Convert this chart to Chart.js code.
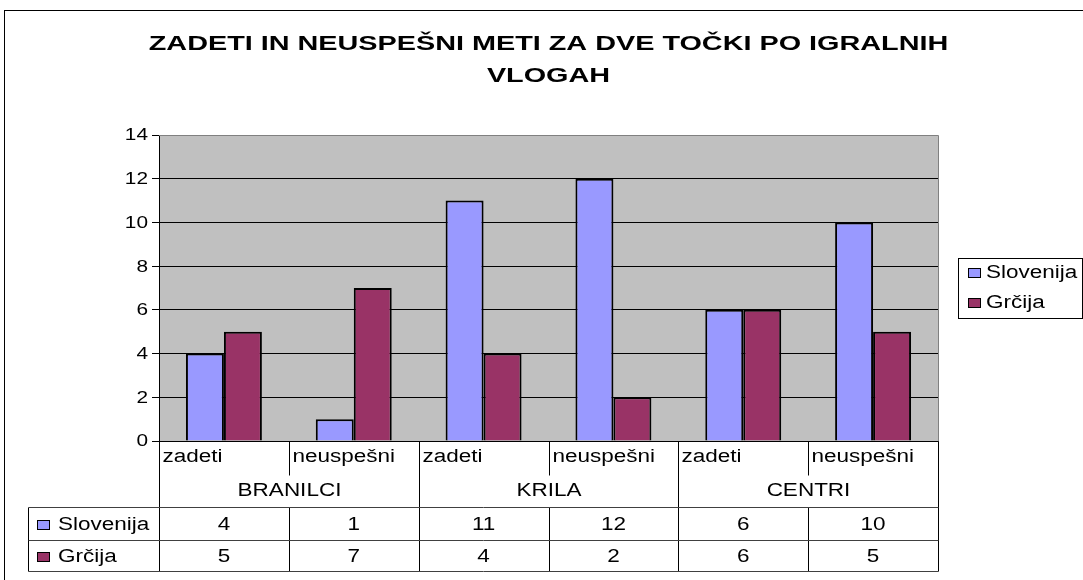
<!DOCTYPE html>
<html>
<head>
<meta charset="utf-8">
<script src="https://cdn.jsdelivr.net/npm/chart.js@4/dist/chart.umd.min.js"></script>
<style>
  body { margin: 0; background: #fff; }
  canvas { display: block; }
</style>
</head>
<body>
<canvas id="c" width="1083" height="580"></canvas>
<script>
const chartTitle = ["ZADETI IN NEUSPEŠNI METI ZA DVE TOČKI PO IGRALNIH", "VLOGAH"];
const subLabels = ["zadeti", "neuspešni", "zadeti", "neuspešni", "zadeti", "neuspešni"];
const groupLabels = ["BRANILCI", "KRILA", "CENTRI"];
const slovenija = [4, 1, 11, 12, 6, 10];
const grcija = [5, 7, 4, 2, 6, 5];
const yMin = 0, yMax = 14, yStep = 2;

const FONT = "'Liberation Sans', Arial, sans-serif";

// the original picture is stretched sideways, so text gets drawn a bit wide
function wideText(ctx, txt, x, y, align, sx) {
  ctx.save();
  ctx.translate(x, y);
  ctx.scale(sx, 1);
  ctx.textAlign = align;
  ctx.fillText(txt, 0, 0);
  ctx.restore();
}

// background, outer frame, title, tick labels, data table and legend box (Excel style)
const excelBits = {
  id: "excelBits",
  beforeDraw(chart) {
    const { ctx, chartArea: a } = chart;
    ctx.save();
    ctx.fillStyle = "#fff";
    ctx.fillRect(0, 0, chart.width, chart.height);
    ctx.strokeStyle = "#000";
    ctx.lineWidth = 1;
    ctx.strokeRect(4.5, 10.5, 1100, 600);
    ctx.fillStyle = "#C0C0C0";
    ctx.fillRect(a.left, a.top, a.right - a.left, a.bottom - a.top);
    ctx.restore();
  },
  afterDraw(chart) {
    const { ctx, chartArea: a } = chart;
    const x = chart.scales.x;
    const y = chart.scales.y;
    const n = chart.data.labels.length;
    const w = (a.right - a.left) / n;
    const edge = i => Math.round(a.left + i * w) + 0.5;
    const y0 = Math.round(a.bottom) + 0.5;
    const r1 = y0 + 34, r2 = y0 + 66, r3 = y0 + 99, r4 = y0 + 130;
    const tableLeft = 28.5;
    const midX = (a.left + a.right) / 2;

    ctx.save();
    ctx.lineWidth = 1;

    // title
    ctx.fillStyle = "#000";
    ctx.font = "bold 20px " + FONT;
    ctx.textBaseline = "alphabetic";
    chartTitle.forEach((t, i) => wideText(ctx, t, midX, 50 + i * 32, "center", 1.44));

    // y tick labels
    ctx.font = "16px " + FONT;
    ctx.textBaseline = "middle";
    y.ticks.forEach(t => {
      wideText(ctx, String(t.value), y.right - 11, y.getPixelForValue(t.value) + 1, "right", 1.3);
    });

    // plot area border (top / right)
    ctx.strokeStyle = "#808080";
    ctx.beginPath();
    ctx.moveTo(a.left, Math.round(a.top) + 0.5);
    ctx.lineTo(Math.round(a.right) + 0.5, Math.round(a.top) + 0.5);
    ctx.lineTo(Math.round(a.right) + 0.5, y0);
    ctx.stroke();

    // vertical lines
    ctx.strokeStyle = "#000";
    ctx.beginPath();
    for (let i = 0; i <= n; i++) {
      const ex = edge(i);
      if (i % 2 === 0) {
        ctx.moveTo(ex, y0); ctx.lineTo(ex, r4);
      } else {
        ctx.moveTo(ex, y0); ctx.lineTo(ex, r1);
        ctx.moveTo(ex, r2); ctx.lineTo(ex, r4);
      }
    }
    ctx.moveTo(tableLeft, r2); ctx.lineTo(tableLeft, r4);
    ctx.stroke();

    // horizontal lines
    ctx.strokeStyle = "#404040";
    ctx.beginPath();
    [r2, r3, r4].forEach(yy => {
      ctx.moveTo(tableLeft, yy); ctx.lineTo(edge(n), yy);
    });
    ctx.stroke();

    ctx.fillStyle = "#000";
    ctx.font = "18px " + FONT;
    ctx.textBaseline = "middle";

    // subcategory labels
    chart.data.labels.forEach((lab, i) => {
      wideText(ctx, lab, edge(i) + 3, y0 + 16, "left", 1.25);
    });
    // group labels
    groupLabels.forEach((g, k) => {
      wideText(ctx, g, (edge(2 * k) + edge(2 * k + 2)) / 2, (r1 + r2) / 2, "center", 1.25);
    });

    // series rows
    const rows = [[r2, r3], [r3, r4]];
    chart.data.datasets.forEach((ds, di) => {
      const cy = (rows[di][0] + rows[di][1]) / 2 + 1;
      ctx.fillStyle = ds.backgroundColor;
      ctx.fillRect(37, cy - 5, 13, 10);
      ctx.strokeStyle = "#000";
      ctx.strokeRect(37.5, cy - 4.5, 12, 9);
      ctx.fillStyle = "#000";
      wideText(ctx, ds.label, 58, cy, "left", 1.25);
      ds.data.forEach((v, i) => {
        wideText(ctx, String(v), x.getPixelForValue(i), cy, "center", 1.25);
      });
    });

    // legend box
    ctx.strokeStyle = "#000";
    ctx.strokeRect(958.5, 258.5, 124, 60);
    chart.data.datasets.forEach((ds, di) => {
      const cy = 273 + di * 30;
      ctx.fillStyle = ds.backgroundColor;
      ctx.fillRect(968, cy - 5, 13, 10);
      ctx.strokeRect(968.5, cy - 4.5, 12, 9);
      ctx.fillStyle = "#000";
      wideText(ctx, ds.label, 986, cy, "left", 1.25);
    });

    ctx.restore();
  }
};

new Chart(document.getElementById("c"), {
  type: "bar",
  data: {
    labels: subLabels,
    datasets: [
      { label: "Slovenija", data: slovenija, backgroundColor: "#9999FF", borderColor: "#000", borderWidth: 2 },
      { label: "Grčija", data: grcija, backgroundColor: "#993366", borderColor: "#000", borderWidth: 2 }
    ]
  },
  options: {
    responsive: false,
    animation: false,
    layout: { padding: { left: 100, right: 145, top: 135, bottom: 139 } },
    plugins: {
      legend: { display: false },
      tooltip: { enabled: false },
      title: { display: false }
    },
    scales: {
      x: {
        grid: { display: false },
        border: { display: true, color: "#000" },
        ticks: { display: false },
        afterFit: s => { s.height = 0; }
      },
      y: {
        min: yMin,
        max: yMax,
        ticks: { stepSize: yStep, display: false },
        grid: {
          color: c => (c.tick && c.tick.value === yMax ? "#808080" : "#000"),
          tickColor: "#000",
          tickLength: 7
        },
        border: { display: true, color: "#000" },
        afterFit: s => { s.width = 59; }
      }
    },
    datasets: { bar: { categoryPercentage: 0.585, barPercentage: 1 } }
  },
  plugins: [excelBits]
});
</script>
</body>
</html>
